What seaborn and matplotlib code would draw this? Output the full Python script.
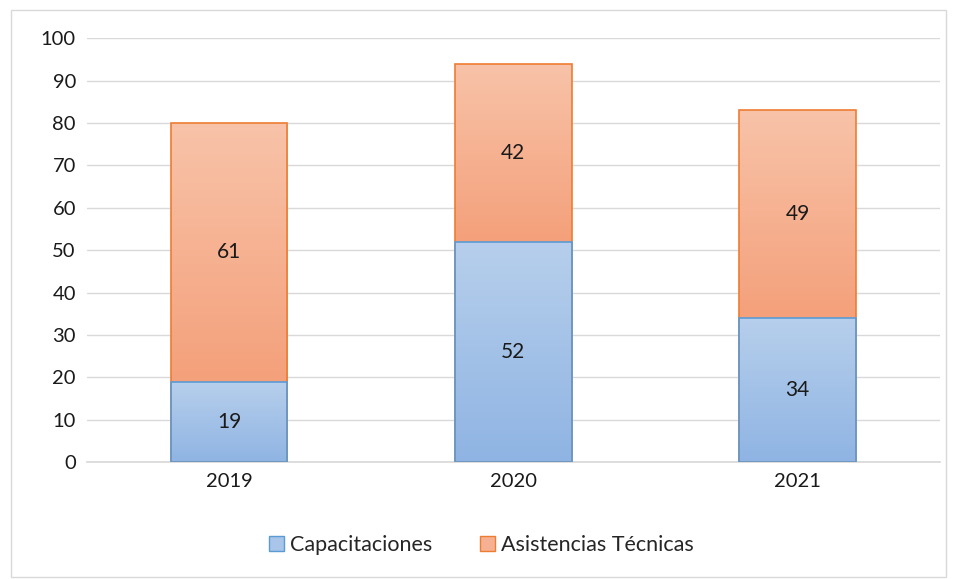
import numpy as np
import pandas as pd
import matplotlib
matplotlib.use("Agg")
import matplotlib.pyplot as plt
import seaborn as sns
from matplotlib.patches import Patch, Rectangle
from matplotlib.colors import LinearSegmentedColormap

# data
years = ["2019", "2020", "2021"]
capacitaciones = [19, 52, 34]
asistencias = [61, 42, 49]

sns.set_theme(style="white")
plt.rcParams["font.family"] = ["Lato", "DejaVu Sans"]

df = pd.DataFrame({"year": years, "cap": capacitaciones, "asis": asistencias})
df["total"] = df["cap"] + df["asis"]

fig = plt.figure(figsize=(9.57, 5.79), dpi=100)
ax = fig.add_axes([0.0909, 0.202, 0.891, 0.732])

# outer border like the spreadsheet chart frame
fig.patches.append(Rectangle((0.011, 0.004), 0.978, 0.979, transform=fig.transFigure,
                             fill=False, edgecolor="#d9d9d9", linewidth=1))

# stacked bars: totals first, then the bottom series on top
sns.barplot(data=df, x="year", y="total", color="#f4a47e", width=0.41,
            edgecolor="#ed7d31", linewidth=1.2, ax=ax, zorder=2)
sns.barplot(data=df, x="year", y="cap", color="#9dbde6", width=0.41,
            edgecolor="#5b9bd5", linewidth=1.2, ax=ax, zorder=2)

# gradient fills clipped to each bar
blue_cmap = LinearSegmentedColormap.from_list("b", ["#8fb4e3", "#b7cfec"])
orange_cmap = LinearSegmentedColormap.from_list("o", ["#f4a07a", "#f8c3a9"])
n = len(years)
grad = np.linspace(0, 1, 256).reshape(-1, 1)
for i, p in enumerate(ax.patches):
    x0, y0 = p.get_x(), p.get_y()
    w, h = p.get_width(), p.get_height()
    if i < n:
        # orange part sits above the blue one
        y0 = capacitaciones[i]
        h = asistencias[i]
        cmap = orange_cmap
    else:
        cmap = blue_cmap
    im = ax.imshow(grad, cmap=cmap, origin="lower", aspect="auto",
                   extent=(x0, x0 + w, y0, y0 + h), zorder=2.5)
    clip = Rectangle((x0, y0), w, h, transform=ax.transData)
    im.set_clip_path(clip)
    p.set_zorder(3)
    p.set_facecolor("none")

# value labels
for i in range(n):
    ax.text(i, capacitaciones[i] / 2, str(capacitaciones[i]), ha="center", va="center",
            fontsize=15, color="#1a1a1a", zorder=4)
    ax.text(i, capacitaciones[i] + asistencias[i] / 2, str(asistencias[i]), ha="center",
            va="center", fontsize=15, color="#1a1a1a", zorder=4)

ax.set_xlim(-0.5, n - 0.5)
ax.set_ylim(0, 100)
ax.set_yticks(range(0, 101, 10))
ax.yaxis.grid(True, color="#d9d9d9", linewidth=1)
ax.set_axisbelow(True)
ax.set_xlabel("")
ax.set_ylabel("")
ax.tick_params(axis="both", labelsize=14.5, colors="#1a1a1a", length=0, pad=8)
for s in ["top", "right", "left"]:
    ax.spines[s].set_visible(False)
ax.spines["bottom"].set_color("#d9d9d9")

handles = [Patch(facecolor="#a9c5ea", edgecolor="#5b9bd5", label="Capacitaciones"),
           Patch(facecolor="#f6b092", edgecolor="#ed7d31", label="Asistencias Técnicas")]
fig.legend(handles=handles, loc="center", bbox_to_anchor=(0.503, 0.058), ncol=2,
           frameon=False, fontsize=15.5, handlelength=0.7, handleheight=0.7,
           handletextpad=0.3, columnspacing=2.2)

fig.savefig("out.png", dpi=100)
